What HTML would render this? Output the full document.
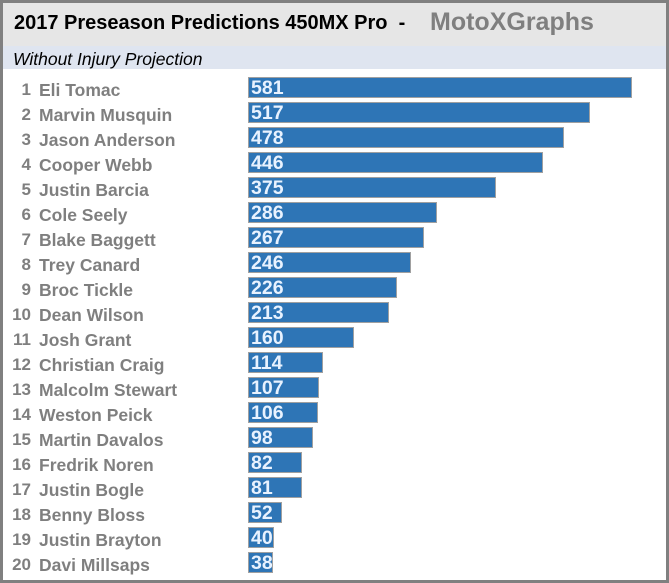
<!DOCTYPE html><html><head><style>
body{margin:0;width:669px;height:583px;background:#fff;position:relative;overflow:hidden;font-family:"Liberation Sans",sans-serif}
.frame{position:absolute;left:0;top:0;width:663px;height:577px;border:3px solid #808080;border-right-width:3px}
.t{position:absolute;left:3px;top:3px;width:663px;height:43px;background:#e6e6e6}
.s{position:absolute;left:3px;top:46px;width:663px;height:23px;background:#dfe5f0}
.abs{position:absolute;white-space:nowrap}
.n{position:absolute;width:28px;text-align:right;left:3px;color:#7f7f7f;font-weight:bold;font-size:17px}
.nm{position:absolute;left:39px;color:#7f7f7f;font-weight:bold;font-size:17.5px;white-space:nowrap}
.b{position:absolute;left:248px;background:#2e75b6;border:1px solid #a0a0a0;color:#e8f2ff;font-weight:bold;font-size:19.5px;line-height:20px;padding-left:2px;overflow:hidden;box-sizing:border-box;height:21px}
</style></head><body>
<div class="t"></div><div class="s"></div><div class="frame"></div>
<div class="abs" style="left:14px;top:12px;font-size:20px;font-weight:bold;color:#000">2017 Preseason Predictions 450MX Pro&nbsp; -</div>
<div class="abs" style="left:430px;top:8px;font-size:25px;font-weight:bold;color:#7f7f7f">MotoXGraphs</div>
<div class="abs" style="left:13px;top:49px;font-size:17.5px;font-style:italic;color:#000">Without Injury Projection</div>
<div id="rows"></div>
<script>
var d=[["Eli Tomac",581],["Marvin Musquin",517],["Jason Anderson",478],["Cooper Webb",446],["Justin Barcia",375],["Cole Seely",286],["Blake Baggett",267],["Trey Canard",246],["Broc Tickle",226],["Dean Wilson",213],["Josh Grant",160],["Christian Craig",114],["Malcolm Stewart",107],["Weston Peick",106],["Martin Davalos",98],["Fredrik Noren",82],["Justin Bogle",81],["Benny Bloss",52],["Justin Brayton",40],["Davi Millsaps",38]];
var h="";d.forEach(function(r,i){var y=77+25*i;
h+='<div class="n" style="top:'+(y+3)+'px">'+(i+1)+'</div><div class="nm" style="top:'+(y+3)+'px">'+r[0]+'</div><div class="b" style="top:'+y+'px;width:'+Math.round(r[1]*384/581)+'px">'+r[1]+'</div>';});
document.getElementById("rows").innerHTML=h;
</script>
</body></html>
